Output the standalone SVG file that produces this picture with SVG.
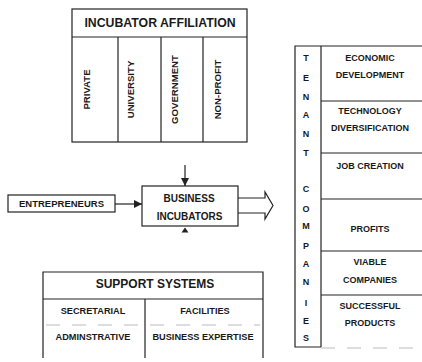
<svg xmlns="http://www.w3.org/2000/svg" width="422" height="362" viewBox="0 0 422 362">
<defs>
<style>
.t{font-family:"Liberation Sans",Arial,sans-serif;font-weight:bold;fill:#1a1a1a;text-anchor:middle}
.ln{stroke:#222;stroke-width:1.2;fill:none}
.box{stroke:#222;stroke-width:1.2;fill:#fff}
.faint{stroke:#bbb;stroke-width:1;fill:none;stroke-dasharray:14 12}
</style>
<marker id="ah" viewBox="0 0 10 10" refX="10" refY="5" markerWidth="8" markerHeight="8" markerUnits="userSpaceOnUse" orient="auto">
<path d="M0,0 L10,5 L0,10 Z" fill="#222"/>
</marker>
</defs>
<rect width="422" height="362" fill="#fff"/>

<g id="incubator-affiliation">
<rect class="box" x="72" y="9" width="175" height="133"/>
<line class="ln" x1="72" y1="37" x2="247" y2="37"/>
<line class="ln" x1="118" y1="37" x2="118" y2="142"/>
<line class="ln" x1="161" y1="37" x2="161" y2="142"/>
<line class="ln" x1="203" y1="37" x2="203" y2="142"/>
<text class="t" x="160" y="27" font-size="12.3">INCUBATOR AFFILIATION</text>
<text class="t" font-size="9.6" transform="translate(90,89.5) rotate(-90)">PRIVATE</text>
<text class="t" font-size="9.6" transform="translate(133.5,89.5) rotate(-90)">UNIVERSITY</text>
<text class="t" font-size="9.6" transform="translate(177.5,89.5) rotate(-90)">GOVERNMENT</text>
<text class="t" font-size="9.6" transform="translate(221,89.5) rotate(-90)">NON-PROFIT</text>
</g>

<g id="entrepreneurs">
<rect class="box" x="8" y="195" width="107" height="17"/>
<text class="t" x="61.5" y="207" font-size="9.5">ENTREPRENEURS</text>
</g>

<g id="business-incubators">
<rect class="box" x="142" y="186" width="96" height="40"/>
<text class="t" x="189" y="201.5" font-size="10">BUSINESS</text>
<text class="t" x="189.5" y="220" font-size="10">INCUBATORS</text>
</g>

<g id="support-systems">
<path class="ln" d="M43,358 V272 H263 V358"/>
<line class="ln" x1="43" y1="299" x2="263" y2="299"/>
<line class="ln" x1="145" y1="299" x2="145" y2="358"/>
<line class="faint" x1="46" y1="325" x2="260" y2="325"/>
<text class="t" x="155" y="287.5" font-size="12">SUPPORT SYSTEMS</text>
<text class="t" x="93" y="313.5" font-size="9.2">SECRETARIAL</text>
<text class="t" x="205" y="313.5" font-size="9.2">FACILITIES</text>
<text class="t" x="93" y="339.5" font-size="9.2">ADMINSTRATIVE</text>
<text class="t" x="203" y="339.5" font-size="9.2">BUSINESS EXPERTISE</text>
</g>

<g id="tenant-companies">
<path class="ln" d="M422,46 H295 V347 H321"/>
<line class="ln" x1="321" y1="46" x2="321" y2="347"/>
<line class="ln" x1="321" y1="101" x2="422" y2="101"/>
<line class="ln" x1="321" y1="153" x2="422" y2="153"/>
<line class="ln" x1="321" y1="199" x2="422" y2="199"/>
<line class="ln" x1="321" y1="251" x2="422" y2="251"/>
<line class="ln" x1="321" y1="295" x2="422" y2="295"/>
<line class="faint" x1="321" y1="348" x2="422" y2="348"/>
<g class="t" font-size="9">
<text x="306" y="60.5">T</text>
<text x="306" y="80.5">E</text>
<text x="306" y="99.5">N</text>
<text x="306" y="117.5">A</text>
<text x="306" y="136.5">N</text>
<text x="306" y="155.5">T</text>
<text x="306" y="191.5">C</text>
<text x="306" y="211.5">O</text>
<text x="306" y="228.5">M</text>
<text x="306" y="248.5">P</text>
<text x="306" y="266.5">A</text>
<text x="306" y="284.5">N</text>
<text x="306" y="305.5">I</text>
<text x="306" y="323.5">E</text>
<text x="306" y="340.5">S</text>
</g>
<g class="t" font-size="9">
<text x="370" y="61">ECONOMIC</text>
<text x="370" y="77.5">DEVELOPMENT</text>
<text x="370" y="114">TECHNOLOGY</text>
<text x="370" y="130.5">DIVERSIFICATION</text>
<text x="370" y="168.5">JOB CREATION</text>
<text x="370" y="231.5">PROFITS</text>
<text x="370" y="264.5">VIABLE</text>
<text x="370" y="282.5">COMPANIES</text>
<text x="370" y="308.5">SUCCESSFUL</text>
<text x="370" y="325.5">PRODUCTS</text>
</g>
</g>

<g id="connectors">
<line class="ln" x1="115" y1="204" x2="142" y2="204" marker-end="url(#ah)"/>
<line class="ln" x1="185" y1="165" x2="185" y2="186" marker-end="url(#ah)"/>
<path d="M185,227.5 L188.5,232.5 L181.5,232.5 Z" fill="#222"/>
<path class="ln" d="M238,198 H265 V192 L273,205.5 L265,219 V213 H238"/>
</g>
</svg>
